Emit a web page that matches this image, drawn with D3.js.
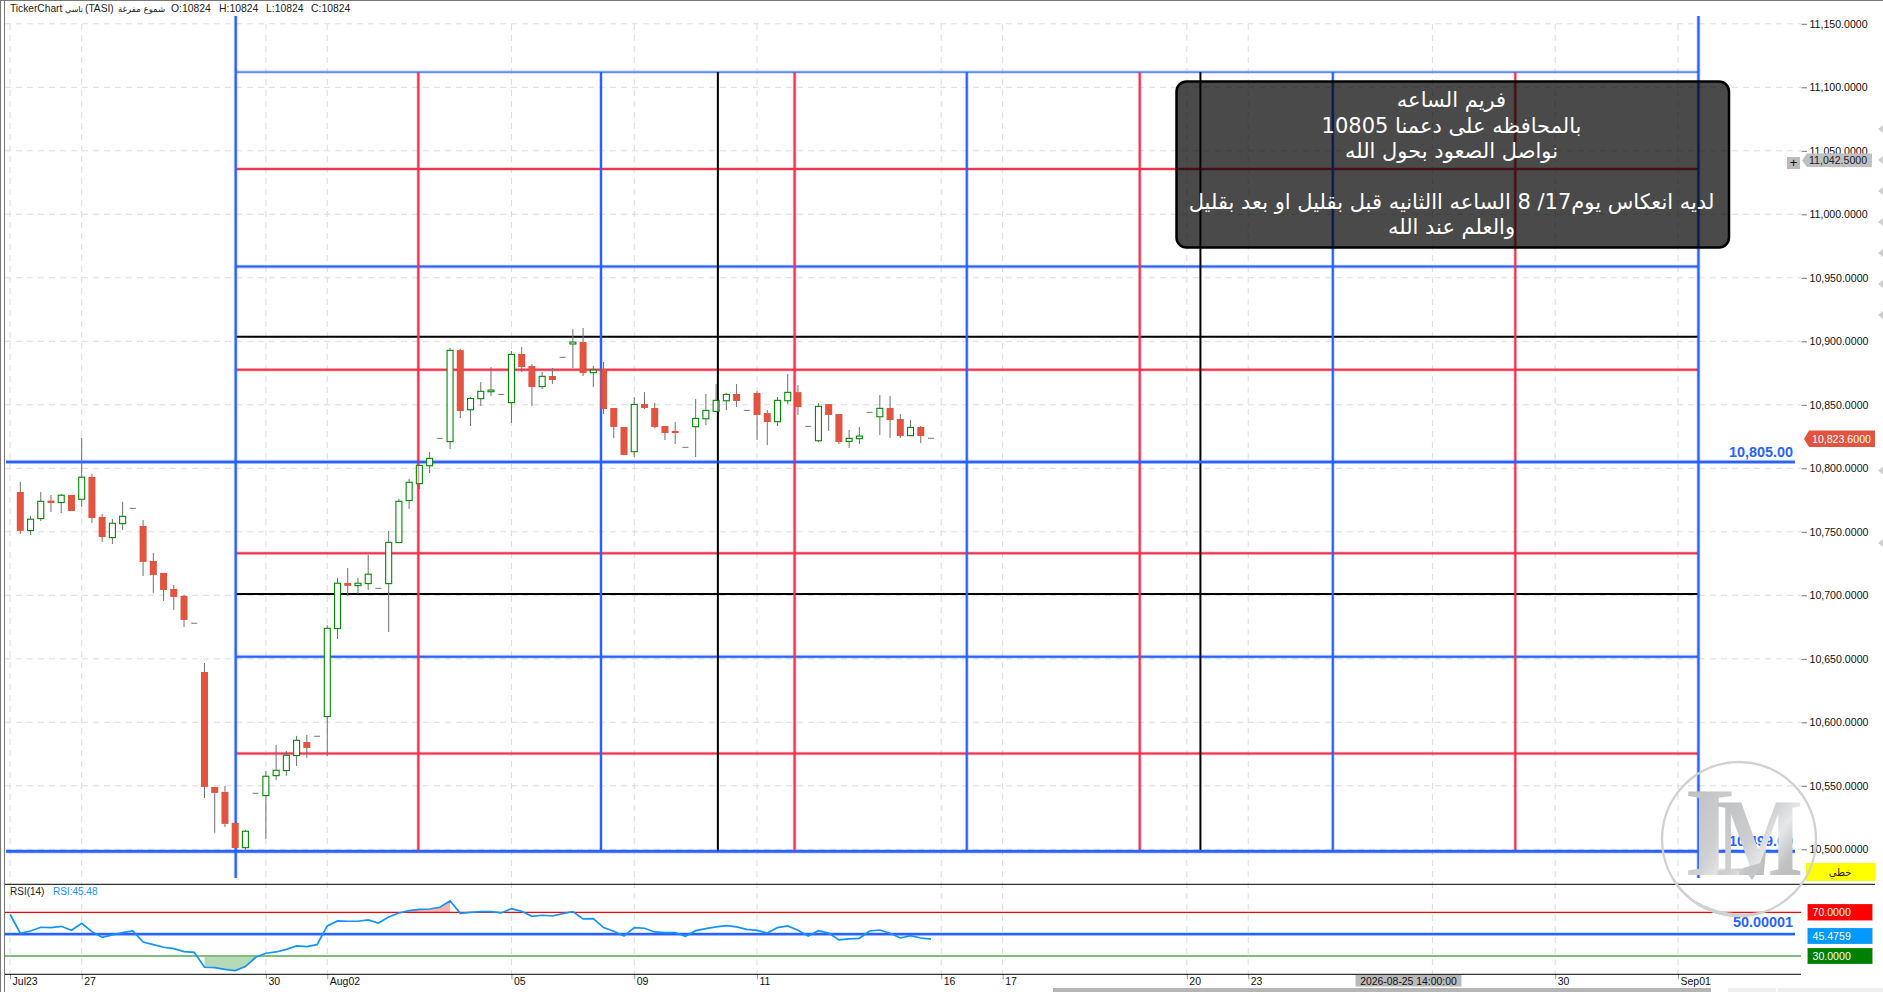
<!DOCTYPE html>
<html><head><meta charset="utf-8">
<script src="https://cdn.jsdelivr.net/npm/d3@7/dist/d3.min.js"></script>
<style>html,body{margin:0;padding:0;background:#fff;overflow:hidden}svg{display:block}text{font-family:"Liberation Sans",sans-serif}</style>
</head><body><svg id="c" width="1883" height="992"></svg>
<script>
// ---- data ----
const barIndex = d3.range(0, 90);
const opens = [10781.4,10751,10760.4,10774.6,10773,10779,10775.6,10793.2,10761.7,10745.4,10756.4,10768.5,10754.6,10727,10717.6,10705,10699.5,10678,10639.6,10549.1,10545.2,10520.8,10501.3,10544.1,10542.3,10558,10562,10573.8,10584.5,10589,10604.5,10673.8,10709.7,10707.6,10709.2,10705.5,10709.2,10741.5,10774.6,10787.9,10802,10823.6,10821,10893.1,10846.1,10854.8,10860.3,10858.2,10851.7,10890,10880.5,10864.3,10872.7,10887.4,10897.9,10899.4,10875.3,10878.2,10847.5,10832.5,10813.1,10850.6,10847.5,10833.3,10829.4,10816.5,10832.8,10839,10844.8,10853.2,10858.5,10845.6,10859.3,10843.5,10836.7,10853.2,10860,10833,10821.7,10850.6,10842.7,10821.2,10823.3,10844,10840.6,10847.5,10838.8,10825.7,10832.5,10823.6];
const highs = [10789.3,10762.5,10781.4,10779,10779.8,10779,10823.9,10795.6,10764,10760.1,10773.5,10768.5,10759.3,10733.4,10717.6,10708.2,10700.3,10678,10646.7,10549.1,10549.9,10520.8,10515.2,10544.1,10561.7,10582.2,10577.4,10589.3,10590,10589,10676.4,10713.7,10721.5,10713.7,10731.8,10705.5,10750.7,10776,10791.6,10802.3,10812.8,10823.6,10894.7,10893.9,10856.1,10867.9,10879.7,10858.2,10892.3,10895.5,10882.1,10875.8,10879,10887.4,10909.7,10910.5,10880.5,10883.7,10847.5,10832.5,10856.1,10860,10851.4,10833.3,10836.4,10816.5,10854.5,10858.5,10866.4,10859.3,10866.4,10845.6,10860.8,10845.9,10856.1,10874.2,10865.6,10833,10851.4,10850.6,10842.7,10830.1,10832.5,10844,10857.7,10856.9,10842.7,10838,10833.3,10823.6];
const lows = [10748.3,10747.5,10758.5,10765.6,10764.8,10766.4,10769.6,10757,10742,10740.4,10751.5,10768.5,10715.2,10701.9,10695.6,10688.5,10675.1,10678,10540.4,10512.9,10517.6,10501,10497.4,10544.1,10508.1,10554.6,10557.8,10565.6,10572,10589,10573.5,10665.6,10699.5,10701.1,10704.2,10705.5,10671.1,10741.5,10768,10783.7,10796.3,10823.6,10815.2,10839.6,10833.3,10849,10856.9,10858.2,10835.7,10875.8,10849,10862.4,10866.4,10887.4,10879,10872.7,10864,10842.7,10823.8,10810.5,10808.9,10846.7,10831.7,10822.3,10819.1,10816.5,10808.9,10834,10844.3,10845.9,10848.2,10845.6,10822.3,10818.3,10833.3,10850.6,10842,10833,10820.7,10829.4,10819.1,10816,10819.1,10844,10826.2,10823.8,10823.8,10825.4,10819.9,10823.6];
const closes = [10750.7,10759.9,10774,10772.7,10778.8,10766.4,10793,10760.9,10745.9,10756.7,10762.2,10768.5,10726.3,10716,10704.2,10698.7,10680.6,10678,10549.1,10544.4,10520,10501,10514.2,10544.1,10557.5,10562.2,10574,10585.8,10579.8,10589,10674,10709.5,10707.4,10709.5,10716.6,10705.5,10741.7,10774,10789,10802.3,10807.8,10823.6,10892.9,10845.1,10855,10860.6,10861.6,10858.2,10889.7,10879.7,10864,10872.4,10869.5,10887.4,10899.4,10875,10877.4,10846.7,10832.5,10810.5,10850.3,10847.5,10832.5,10827.8,10827.8,10816.5,10839.3,10845.6,10853.5,10858.2,10853,10845.6,10842,10836.4,10853.5,10859.8,10848.2,10833,10848.8,10842,10820.7,10823.6,10825.4,10844,10847.2,10838,10825.4,10832.2,10825.4,10823.6];
const rsiIndex = d3.range(-1, 90);
const rsiValues = [68.2,50.8,52.9,56.3,56,57.2,53.5,59.9,52.3,47.1,49.3,51.4,52.9,42.8,40.4,38,36.7,34,33.4,19.7,19.4,17.8,16.6,20.3,28.8,32.5,33.7,36.1,39.2,38.6,40.4,57.5,62.1,61.8,61.8,63,60.2,65.7,69.4,71.5,72.7,73,74.6,80.4,69.1,70,70.6,70.6,69.4,73.4,70.9,66.3,67.3,66.6,68.8,70.6,63.9,64.2,56,52.6,48.3,56,55.4,52,51.4,51.4,48,53.2,55,56.6,57.8,56.6,54.4,53.5,51,56,57.5,53.5,48.3,53.2,51,44.7,45.6,46.2,52.9,53.8,50.8,46.5,48.6,46.5,45.48];
const priceTicks = [11150,11100,11050,11000,10950,10900,10850,10800,10750,10700,10650,10600,10550,10500];
const timeTickIndex = [-1,6,24,30,48,60,72,90,96,114,120,150,162];
const timeTickLabels = ["Jul23","27","30","Aug02","05","09","11","16","17","20","23","30","Sep01"];
const crossIndex = 138, crossLabel = "2026-08-25 14:00:00";
const levelPrices = [11112,11035.7,10958.8,10903.6,10877.6,10733.1,10701,10651.7,10575.4];
const levelKinds = ["top","red","blue","black","red","red","black","blue","red"];
const timeLines = [38.9,56.75,68.17,75.67,92.5,109.4,115.33,128.27,146.1];
const timeKinds = ["red","blue","black","red","blue","red","black","blue","red"];
const outerTimeLines = [21.05,164];
const supportLevels = [10805,10498.4];
const rsiLevels = [70,50.00001,30];
const noteLines = ["فريم الساعه","بالمحافظه على دعمنا 10805","نواصل الصعود بحول الله","","لديه انعكاس يوم17/ 8 الساعه االثانيه قبل بقليل او بعد بقليل","والعلم عند الله"];
const edgeMarks = [129,160,191,222,253,284,315,470.6,543];

// ---- scales ----
const svg = d3.select("#c");
const x = d3.scaleLinear().domain([0,89]).range([20.3,931]);
const y = d3.scaleLinear().domain([11100,10500]).range([87.3,849.3]);
const r = d3.scaleLinear().domain([70,30]).range([912.3,956]);
const L = 5, R = 1801, MB = 884.3, RB = 974.3;
const AR = '"DejaVu Sans",sans-serif';
const col = {red:"#f2344f",blue:"#2962ff",black:"#000",top:"#5f8cff"};
const wid = {red:2,blue:2,black:2,top:1.8};

function seg(g,x1,y1,x2,y2,kind,w){
  const ww = w||wid[kind];
  if(kind!=="black") g.append("line").attr("x1",x1).attr("x2",x2).attr("y1",y1).attr("y2",y2)
      .attr("stroke",col[kind]).attr("stroke-width",ww+1.6).attr("opacity",.28);
  g.append("line").attr("x1",x1).attr("x2",x2).attr("y1",y1).attr("y2",y2).attr("stroke",col[kind]).attr("stroke-width",ww);
}

// frame
svg.append("rect").attr("x",0).attr("y",0).attr("width",1).attr("height",992).attr("fill","#777");
svg.append("rect").attr("x",4).attr("y",0).attr("width",1).attr("height",992).attr("fill","#777");
svg.append("line").attr("x1",0).attr("x2",1883).attr("y1",0.5).attr("y2",0.5).attr("stroke","#777");

// grid
const grid = svg.append("g").attr("stroke","#dcdcdc").attr("stroke-dasharray","6 5").attr("fill","none");
priceTicks.forEach(v=>grid.append("line").attr("x1",L).attr("x2",R).attr("y1",y(v)).attr("y2",y(v)));
timeTickIndex.concat([crossIndex]).forEach(i=>{
  grid.append("line").attr("x1",x(i)).attr("x2",x(i)).attr("y1",24).attr("y2",RB);
});

// time axis
const tAxis = d3.axisBottom(x).tickValues(timeTickIndex).tickSize(5)
  .tickFormat(d=>timeTickLabels[timeTickIndex.indexOf(d)]);
const tg = svg.append("g").attr("transform",`translate(0,${RB})`).call(tAxis);
tg.select(".domain").remove();
tg.selectAll("line").attr("stroke","#999");
tg.selectAll("text").attr("text-anchor","start").attr("dx",2).attr("y",3).attr("dy","0.71em")
  .attr("fill","#111").style("font-size","10.5px").style("font-family",'"Liberation Sans",sans-serif');

// price axis
const pAxis = d3.axisRight(y).tickValues(priceTicks).tickSize(5.5).tickPadding(2.5).tickFormat(d3.format(",.4f"));
const pg = svg.append("g").attr("transform",`translate(1801.5,0)`).call(pAxis);
pg.select(".domain").remove();
pg.selectAll("line").attr("stroke","#777");
pg.selectAll("text").attr("fill","#111").style("font-size","10.6px").style("font-family",'"Liberation Sans",sans-serif');

// drawn levels
const lev = svg.append("g");
const yTop = y(levelPrices[0]), yBot = y(supportLevels[1]);
levelPrices.forEach((p,k)=>seg(lev,x(outerTimeLines[0]),y(p),x(outerTimeLines[1]),y(p),levelKinds[k]));
timeLines.forEach((t,k)=>seg(lev,x(t),yTop,x(t),yBot,timeKinds[k]));
outerTimeLines.forEach(t=>seg(lev,x(t),16,x(t),878,"blue",2.2));
supportLevels.forEach(p=>seg(lev,L+1,y(p),1795,y(p),"blue",2.6));
const blueLbl = (t,xx,yy)=>svg.append("text").attr("x",xx).attr("y",yy).attr("text-anchor","end")
   .attr("fill",col.blue).attr("font-weight","bold").style("font-size","14.4px").text(t);
blueLbl("10,805.00",1793,y(supportLevels[0])-5);

// candles
const cg = svg.append("g");
barIndex.forEach(i=>{
  const o=opens[i],h=highs[i],l=lows[i],c=closes[i],cx=x(i);
  if(h===l){cg.append("line").attr("x1",cx-3).attr("x2",cx+3).attr("y1",y(c)).attr("y2",y(c)).attr("stroke","#777").attr("stroke-width",1);return;}
  const top=Math.max(o,c),bot=Math.min(o,c),up=c>o;
  cg.append("line").attr("x1",cx).attr("x2",cx).attr("y1",y(h)).attr("y2",y(top)).attr("stroke","#707070");
  cg.append("line").attr("x1",cx).attr("x2",cx).attr("y1",y(bot)).attr("y2",y(l)).attr("stroke","#707070");
  if(up){
    cg.append("rect").attr("x",cx-3).attr("width",6).attr("y",y(top)).attr("height",Math.max(1,y(bot)-y(top)))
      .attr("fill","#fff").attr("stroke","#008a00").attr("stroke-width",1.1);
  } else {
    cg.append("rect").attr("x",cx-3.5).attr("width",7).attr("y",y(top)).attr("height",Math.max(1.5,y(bot)-y(top)))
      .attr("fill","#e25440");
  }
});

// levels overlap the candles translucently
timeLines.forEach((t,k)=>{
  if(x(t)<800) svg.append("line").attr("x1",x(t)).attr("x2",x(t)).attr("y1",yTop).attr("y2",yBot)
     .attr("stroke",col[timeKinds[k]]).attr("stroke-width",1.4).attr("opacity",.55);
});

// panel separators
svg.append("line").attr("x1",L).attr("x2",1875).attr("y1",MB).attr("y2",MB).attr("stroke","#000");
svg.append("line").attr("x1",L).attr("x2",R).attr("y1",RB).attr("y2",RB).attr("stroke","#000");

// rsi panel
const defs = svg.append("defs");
defs.append("clipPath").attr("id","above").append("rect").attr("x",0).attr("width",1883).attr("y",MB).attr("height",r(70)-MB);
defs.append("clipPath").attr("id","below").append("rect").attr("x",0).attr("width",1883).attr("y",r(30)).attr("height",RB-r(30));
const rows = rsiIndex.map((i,k)=>({i,v:rsiValues[k]}));
const aTop = d3.area().x(d=>x(d.i)).y0(r(70)).y1(d=>r(d.v));
const aBot = d3.area().x(d=>x(d.i)).y0(r(30)).y1(d=>r(d.v));
svg.append("path").attr("d",aTop(rows.filter(d=>d.i>=36&&d.i<=42))).attr("fill","#f9b4b4").attr("clip-path","url(#above)");
svg.append("path").attr("d",aBot(rows.filter(d=>d.i>=18&&d.i<=24))).attr("fill","#b5dab5").attr("clip-path","url(#below)");
svg.append("line").attr("x1",L).attr("x2",R).attr("y1",r(rsiLevels[0])).attr("y2",r(rsiLevels[0])).attr("stroke","#f00").attr("stroke-width",1.2);
svg.append("line").attr("x1",L).attr("x2",R).attr("y1",r(rsiLevels[2])).attr("y2",r(rsiLevels[2])).attr("stroke","#7dbd7d").attr("stroke-width",2);
seg(svg,L,r(rsiLevels[1]),1795,r(rsiLevels[1]),"blue",2.2);
svg.append("path").attr("d",d3.line().x(d=>x(d.i)).y(d=>r(d.v))(rows)).attr("fill","none").attr("stroke","#1493ff").attr("stroke-width",1.7);
blueLbl("50.00001",1793,927);

// header
const hdr=(t,xx,yy,f,c,fam)=>{const s=svg.append("text").attr("x",xx).attr("y",yy).attr("fill",c||"#222").style("font-size",f+"px").text(t);if(fam)s.style("font-family",fam);return s;};
hdr("TickerChart",10,11.5,10.2);
hdr("تاسي",65,11.5,8,"#222",AR);
hdr("(TASI)",85,11.5,10.2);
hdr("شموع مفرغة",118,11.5,8.6,"#222",AR);
hdr("O:10824",171,11.5,10.4);
hdr("H:10824",219,11.5,10.4);
hdr("L:10824",266,11.5,10.4);
hdr("C:10824",311,11.5,10.4);
hdr("RSI(14)",10,895,10);
hdr("RSI:45.48",53,895,10,"#1493ff");

// note box
svg.append("rect").attr("x",1176.5).attr("y",81.5).attr("width",552.5).attr("height",166).attr("rx",10)
  .attr("fill","#000").attr("fill-opacity",.71).attr("stroke","#000").attr("stroke-width",2.5);
const nys=[107,132.5,157.5,183,208.5,234];
noteLines.forEach((t,k)=>{
  if(t) svg.append("text").attr("x",1451.5).attr("y",nys[k]).attr("text-anchor","middle").attr("direction","rtl")
    .attr("fill","#fff").style("font-size","21px").style("font-family",AR).text(t);
});

// right side badges
function badge(x0,y0,w,h,fill,t,tc){
  svg.append("rect").attr("x",x0).attr("y",y0).attr("width",w).attr("height",h).attr("fill",fill).attr("stroke","#f3c9c9").attr("stroke-opacity",.25);
  svg.append("text").attr("x",x0+5).attr("y",y0+h/2+4).attr("fill",tc).style("font-size","10.6px").text(t);
}
badge(1807.5,904,65,16.5,"#f00","70.0000","#fff");
badge(1807.5,928,65,16,"#0099ff","45.4759","#fff");
badge(1807.5,948,65,16,"#008000","30.0000","#fff");
svg.append("rect").attr("x",1806).attr("y",863).attr("width",69).attr("height",18).attr("fill","#ff0");
svg.append("text").attr("x",1840).attr("y",876).attr("text-anchor","middle").attr("fill","#222").style("font-size","10px").style("font-family",AR).text("خطي");

svg.append("path").attr("d","M1804,439 L1809,430.5 H1875 V447 H1809 Z").attr("fill","#e25440");
svg.append("text").attr("x",1812).attr("y",442.5).attr("fill","#fff").style("font-size","10.6px").text("10,823.6000");
svg.append("path").attr("d","M1802,160.5 L1807,153.5 H1872 V167 H1807 Z").attr("fill","#c0c0c0");
svg.append("text").attr("x",1809).attr("y",164).attr("fill","#222").style("font-size","10.6px").text("11,042.5000");
svg.append("rect").attr("x",1787).attr("y",157).attr("width",13).attr("height",12).attr("fill","#bbb");
svg.append("text").attr("x",1793.5).attr("y",167).attr("text-anchor","middle").attr("fill","#111").style("font-size","13px").text("+");
edgeMarks.forEach(m=>svg.append("path").attr("d",`M1878,${m} L1883,${m-4} V${m+4} Z`).attr("fill","#cfcfcf"));
// crosshair date tag
svg.append("rect").attr("x",1355.5).attr("y",975).attr("width",106).attr("height",11.5).attr("fill","#b9b9b9");
svg.append("text").attr("x",1408.5).attr("y",984.5).attr("text-anchor","middle").attr("fill","#111").style("font-size","10.4px").text(crossLabel);
// scroll bar
svg.append("rect").attr("x",1053).attr("y",988).attr("width",658).attr("height",4).attr("fill","#b5b5b5");
svg.append("rect").attr("x",1728).attr("y",988).attr("width",48).attr("height",4).attr("fill","#eee");
svg.append("rect").attr("x",1778).attr("y",988).attr("width",105).attr("height",4).attr("fill","#eee");

// watermark
blueLbl("10,499.00",1793,y(supportLevels[1])-5);
const gr = defs.append("linearGradient").attr("id","metal").attr("x1","0").attr("y1","0").attr("x2","1").attr("y2","1");
[[0,"#b9bbbd"],[.45,"#cdcfd0"],[.6,"#e6e7e8"],[.75,"#bfc1c3"],[1,"#b5b7b9"]].forEach(s=>gr.append("stop").attr("offset",s[0]).attr("stop-color",s[1]));
const wm = svg.append("g");
wm.append("circle").attr("cx",1739).attr("cy",839).attr("r",77).attr("fill","none").attr("stroke","#cfd1d2").attr("stroke-width",2.4);
wm.append("path").attr("d","M1672,880 A78,78 0 0 0 1772,909 A84,72 0 0 1 1672,880 Z").attr("fill","#cfd1d2");
const serif='"Liberation Serif",serif';
wm.append("text").attr("transform","translate(1686,875)").attr("fill","url(#metal)").attr("font-weight","bold").style("font-family",serif).style("font-size","128px").text("L");
wm.append("text").attr("transform","translate(1716,875) scale(.92,1.1)").attr("fill","url(#metal)").attr("font-weight","bold").style("font-family",serif).style("font-size","100px").text("M");
wm.append("path").attr("d","M1743,868 L1752,880 L1764,862 Z").attr("fill","#c3c5c6");
</script></body></html>
